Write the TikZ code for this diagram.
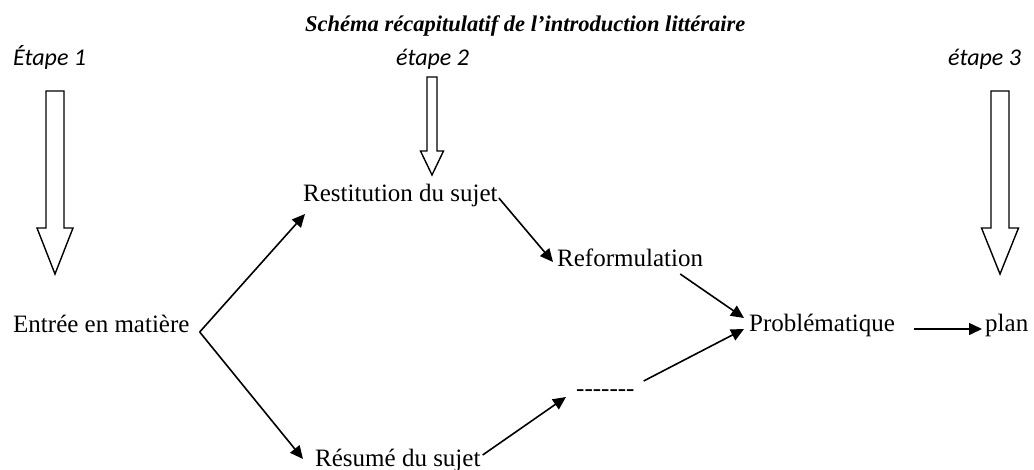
\documentclass[tikz,border=0pt]{standalone}
\usepackage{fontspec}
\setmainfont{Liberation Serif}
\newfontfamily\stepfont{Carlito}
\usetikzlibrary{arrows.meta}
\tikzset{
  txt/.style={inner sep=0pt, anchor=base west, font=\fontsize{25}{30}\selectfont},
  steplabel/.style={inner sep=0pt, anchor=base west, font=\stepfont\itshape\fontsize{24}{28}\selectfont},
  titlestyle/.style={inner sep=0pt, anchor=base west, font=\bfseries\itshape\fontsize{22.5}{27}\selectfont},
  conn/.style={line width=1.6pt, -{Triangle[length=13pt,width=12pt]}},
  blockarrow/.style={draw, line width=1.4pt, fill=white, line join=miter}
}
\newcommand\blkarrow[6]{% cx, top, shaft half, head half, head base, tip
  \draw[blockarrow] (#1-#3,#2) -- (#1+#3,#2) -- (#1+#3,#5) -- (#1+#4,#5) -- (#1,#6)
    -- (#1-#4,#5) -- (#1-#3,#5) -- cycle;}
\begin{document}
\begin{tikzpicture}[x=1pt,y=-1pt]
\useasboundingbox (0,0) rectangle (1034,470);
% title and step labels
\node[titlestyle] (title) at (305,32) {Schéma récapitulatif de l’introduction littéraire};
\node[steplabel] (e1) at (13,66) {Étape 1};
\node[steplabel] (e2) at (396,66) {étape 2};
\node[steplabel] (e3) at (948,66) {étape 3};
% block arrows
\blkarrow{55}{91}{9}{18}{228}{274}
\blkarrow{432}{77}{5}{11.5}{151}{175}
\blkarrow{1000}{91}{9}{18.5}{228}{274}
% text nodes
\node[txt] (entree) at (13,333) {Entrée en matière};
\node[txt] (restit) at (303,202) {Restitution du sujet};
\node[txt] (reform) at (557,267) {Reformulation};
\node[txt] (probl) at (749,332) {Problématique};
\node[txt] (plan) at (985,332) {plan};
\node[txt] (dashes) at (576,396) {-\kern0pt-\kern0pt-\kern0pt-\kern0pt-\kern0pt-\kern0pt-};
\node[txt] (resume) at (315,466) {Résumé du sujet};
% connectors
\draw[conn] ([shift={(10,-1)}]entree.base east) -- ([shift={(2,12)}]restit.base west);
\draw[conn] ([shift={(10,-1)}]entree.base east) -- ([shift={(-12,-7)}]resume.base west);
\draw[conn] ([shift={(1,-4)}]restit.base east) -- ([shift={(-4,-5)}]reform.base west);
\draw[conn] ([shift={(-23,7)}]reform.base east) -- ([shift={(-5,-14)}]probl.base west);
\draw[conn] ([shift={(2,-11)}]resume.base east) -- ([shift={(-10,1)}]dashes.base west);
\draw[conn] ([shift={(9,-15)}]dashes.base east) -- ([shift={(-5,-3)}]probl.base west);
\draw[conn] ([shift={(19,-3)}]probl.base east) -- ([shift={(-3,-3)}]plan.base west);
\end{tikzpicture}
\end{document}
